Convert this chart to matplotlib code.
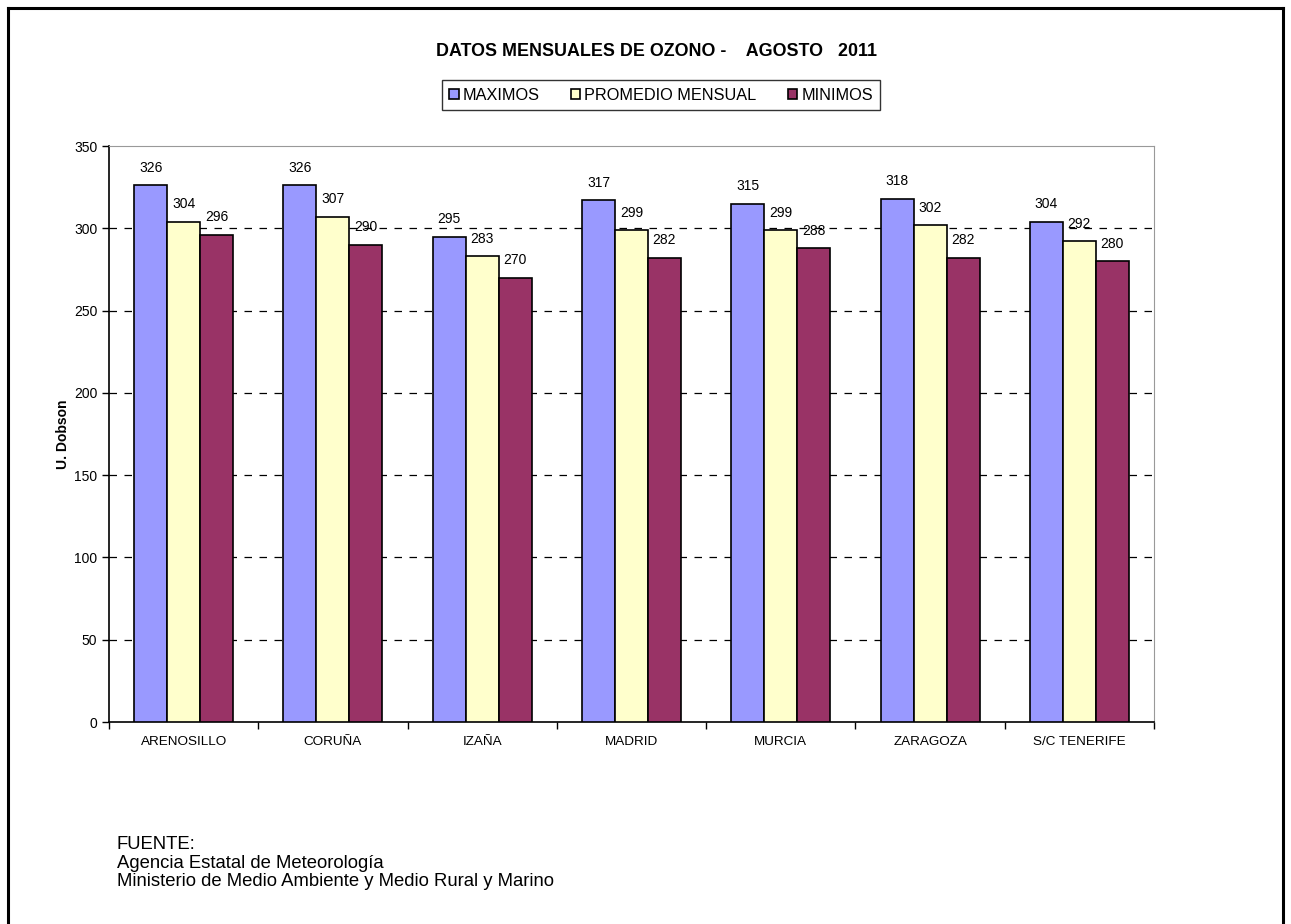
import numpy as np
import matplotlib
matplotlib.use("Agg")
import matplotlib.pyplot as plt
from matplotlib.lines import Line2D

plt.rcParams["font.family"] = ["Liberation Sans", "DejaVu Sans"]

estaciones = ["ARENOSILLO", "CORUÑA", "IZAÑA", "MADRID", "MURCIA",
              "ZARAGOZA", "S/C TENERIFE"]
maximos = [326, 326, 295, 317, 315, 318, 304]
promedio = [304, 307, 283, 299, 299, 302, 292]
minimos = [296, 290, 270, 282, 288, 282, 280]
series_names = ["MAXIMOS", "PROMEDIO MENSUAL", "MINIMOS"]
series_colors = ["#9999FF", "#FFFFCC", "#993366"]
y_ticks = [0, 50, 100, 150, 200, 250, 300, 350]

fig = plt.figure(figsize=(12.91, 9.24), dpi=100)
ax = fig.add_axes([109 / 1291, 1 - 722 / 924, (1154 - 109) / 1291, (722 - 146) / 924])

x = np.arange(len(estaciones))
width = 0.221
handles = []
for i, (vals, name, color) in enumerate(zip([maximos, promedio, minimos],
                                            series_names, series_colors)):
    pos = x + (i - 1) * width
    bars = ax.bar(pos, vals, width, color=color, edgecolor="black",
                  linewidth=1.2, label=name, zorder=3)
    handles.append(bars)
    for xp, v in zip(pos, vals):
        ax.annotate(str(v), (xp, v), xytext=(0, 7.5), textcoords="offset points",
                    ha="center", va="bottom", fontsize=10, zorder=4)

ax.set_xlim(-0.5, len(estaciones) - 0.5)
ax.set_ylim(0, 350)
ax.set_yticks(y_ticks)
ax.set_xticks(x)
ax.set_xticklabels(estaciones, fontsize=9.7)
ax.set_xticks(np.arange(len(estaciones) + 1) - 0.5, minor=True)
ax.tick_params(axis="x", which="major", length=0, pad=10)
ax.tick_params(axis="x", which="minor", length=5, width=1, direction="out")
ax.tick_params(axis="y", length=5, width=1, labelsize=10, direction="out")

for t in y_ticks[1:-1]:
    ax.axhline(t, color="black", linestyle=(0, (6, 6)), linewidth=0.9, zorder=1)

ax.spines["top"].set_color("#999999")
ax.spines["right"].set_color("#999999")
ax.spines["left"].set_linewidth(1.2)
ax.spines["bottom"].set_linewidth(1.2)

ax.set_ylabel("U. Dobson", fontsize=10, fontweight="bold", labelpad=3)

fig.text(657 / 1291, 1 - 52 / 924, "DATOS MENSUALES DE OZONO -    AGOSTO   2011",
         ha="center", va="center", fontsize=12.9, fontweight="bold")

leg = fig.legend(handles=handles, labels=series_names, loc="center",
                 bbox_to_anchor=(661 / 1291, 1 - 95 / 924), ncol=3,
                 fontsize=11.7, frameon=True, fancybox=False, edgecolor="black",
                 handlelength=0.6, handleheight=0.6, handletextpad=0.25,
                 columnspacing=1.9, borderpad=0.45)
leg.get_frame().set_linewidth(1.0)

fig.text(117 / 1291, 1 - 863 / 924,
         "FUENTE:\nAgencia Estatal de Meteorología\n"
         "Ministerio de Medio Ambiente y Medio Rural y Marino",
         ha="left", va="center", fontsize=13.3, linespacing=1.13)

# marco exterior (sin linea inferior)
lw = 2.2
fig.add_artist(Line2D([7.5 / 1291, 7.5 / 1291], [0, 1 - 7.5 / 924],
                      color="black", linewidth=lw, transform=fig.transFigure))
fig.add_artist(Line2D([7.5 / 1291, 1283.3 / 1291], [1 - 7.5 / 924, 1 - 7.5 / 924],
                      color="black", linewidth=lw, transform=fig.transFigure))
fig.add_artist(Line2D([1283.3 / 1291, 1283.3 / 1291], [0, 1 - 7.5 / 924],
                      color="black", linewidth=lw, transform=fig.transFigure))

fig.savefig("out.png", dpi=100)
